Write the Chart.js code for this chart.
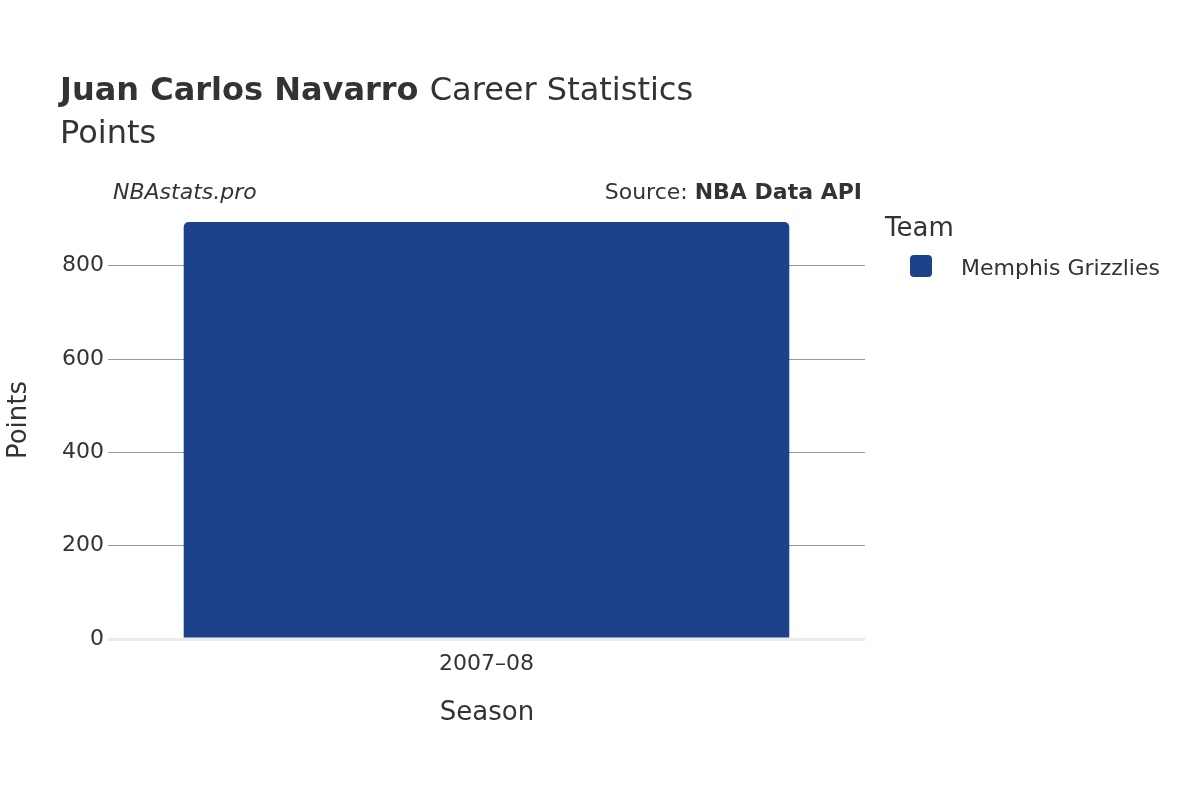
<!DOCTYPE html>
<html><head><meta charset="utf-8">
<script src="https://cdn.jsdelivr.net/npm/chart.js@4"></script>
<style>body{margin:0;background:#fff}#w{width:1200px;height:800px}</style>
</head><body><div id="w"><canvas id="c"></canvas></div>
<script>
const seasons = ["2007–08"];
const points = [894];
const teamName = "Memphis Grizzlies";
const teamColor = "#1d4289";
const yTicks = [0, 200, 400, 600, 800];
const F = "'DejaVu Sans', sans-serif";

const textPlugin = {
  id: 'txt',
  afterDraw(chart) {
    const c = chart.ctx; c.save();
    c.fillStyle = '#333'; c.textBaseline = 'alphabetic';
    c.font = `bold 32px ${F}`; c.textAlign = 'left';
    c.fillText('Juan Carlos Navarro', 60, 100);
    const w = c.measureText('Juan Carlos Navarro ').width;
    c.font = `32px ${F}`; c.fillText('Career Statistics', 60 + w, 100);
    c.fillText('Points', 60, 143);
    c.font = `italic 22px ${F}`; c.fillText('NBAstats.pro', 113, 199);
    c.textAlign = 'right'; c.font = `bold 22px ${F}`;
    c.fillText('NBA Data API', 862, 199);
    const bw = c.measureText('NBA Data API').width;
    c.font = `22px ${F}`; c.fillText('Source: ', 862 - bw, 199);
    c.textAlign = 'left'; c.font = `26px ${F}`;
    c.fillText('Team', 885, 236);
    c.font = `22px ${F}`; c.fillText(teamName, 961, 275);
    c.fillStyle = teamColor; c.beginPath(); c.roundRect(910, 255, 22, 22, 4); c.fill();
    c.fillStyle = '#333'; c.font = `26px ${F}`; c.textAlign = 'center';
    c.fillText('Season', 487, 720);
    c.save(); c.translate(26, 420); c.rotate(-Math.PI/2); c.fillText('Points', 0, 0); c.restore();
    c.restore();
  }
};

new Chart(document.getElementById('c'), {
  type: 'bar',
  data: { labels: seasons, datasets: [{ label: teamName, data: points, backgroundColor: teamColor,
    borderRadius: {topLeft: 5, topRight: 5}, borderSkipped: 'bottom',
    categoryPercentage: 0.8, barPercentage: 1 }] },
  options: {
    responsive: true, maintainAspectRatio: false, animation: false,
    devicePixelRatio: 1,
    layout: { padding: { top: 200, right: 335, left: 0, bottom: 0 } },
    plugins: { legend: { display: false }, tooltip: { enabled: false } },
    scales: {
      x: { grid: { display: false }, border: { display: false },
        ticks: { color: '#333', font: { family: F, size: 22 }, padding: 4 },
        afterFit(s) { s.height = 161; } },
      y: { min: 0, max: 941, afterBuildTicks(s) { s.ticks = yTicks.map(v => ({ value: v })); },
        border: { display: false },
        grid: { drawTicks: false, color: ctx => ctx.tick && ctx.tick.value === 0 ? '#ebebeb' : '#999',
          lineWidth: ctx => ctx.tick && ctx.tick.value === 0 ? 3 : 1 },
        ticks: { color: '#333', font: { family: F, size: 22 }, padding: 4 },
        afterFit(s) { s.width = 108; } }
    }
  },
  plugins: [textPlugin]
});
</script></body></html>
